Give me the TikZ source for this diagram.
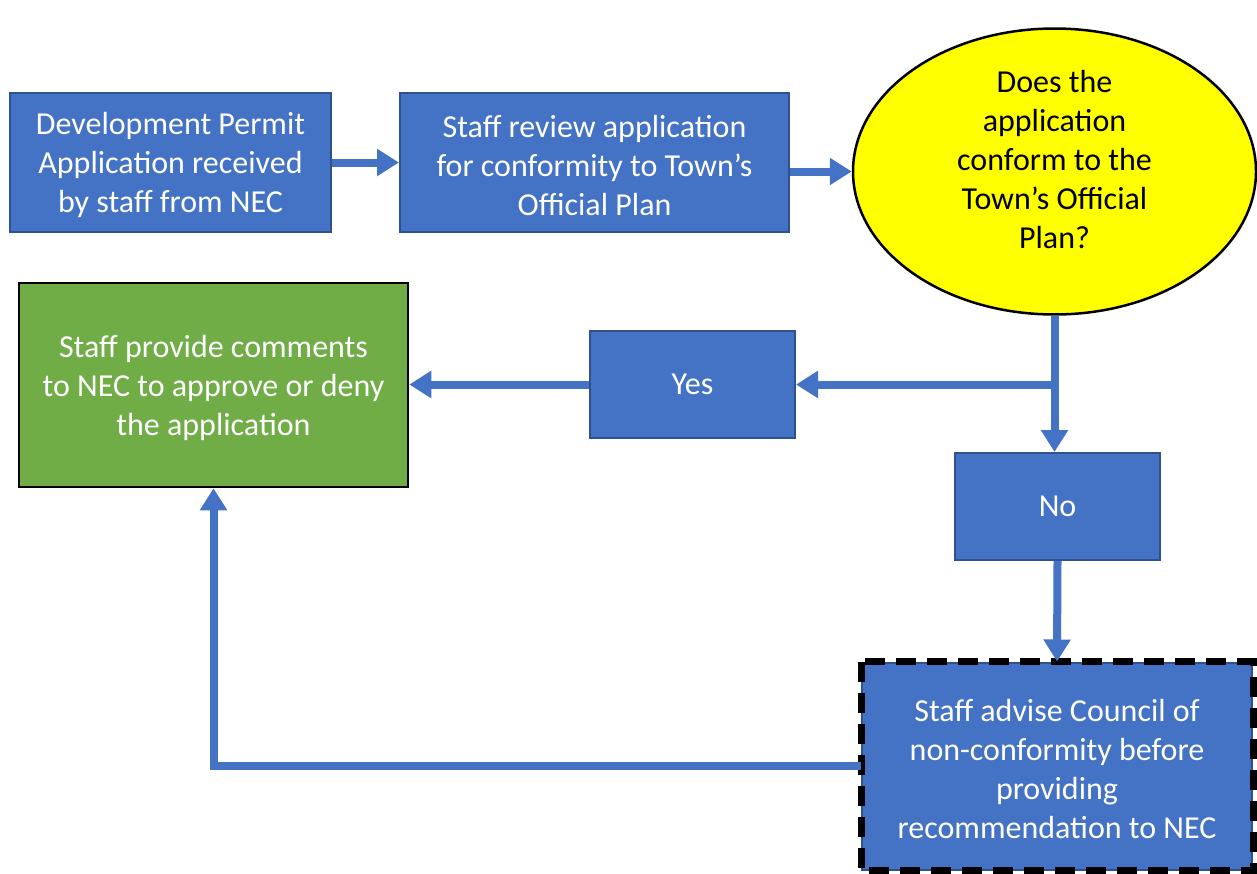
\documentclass[tikz,border=0pt]{standalone}
\usepackage{fontspec}
\setmainfont{Carlito}
\usetikzlibrary{shapes.geometric,arrows.meta}

\definecolor{boxblue}{HTML}{4472C4}
\definecolor{edgeblue}{HTML}{2F528F}
\definecolor{okgreen}{HTML}{70AD47}
\definecolor{askyellow}{HTML}{FFFF00}

\begin{document}
\begin{tikzpicture}[x=1pt, y=-1pt,
                    font=\fontsize{32}{39}\selectfont,
                    step box/.style={rectangle,draw=edgeblue,line width=2pt,fill=boxblue,
                                     text=white,align=center,inner sep=0pt},
                    flow/.style={draw=boxblue,line width=8pt,
                                 -{Triangle[length=22pt,width=26pt]}}]

   \useasboundingbox (0,0) rectangle (1257,873);

   \node[step box,minimum width=321,minimum height=139] (recv) at (170.5,162.5)
        {\strut Development Permit\\Application received\\by staff from NEC};
  \node[step box,minimum width=389,minimum height=139] (review) at (594.5,162.5)
        {\strut Staff review application\\for conformity to Town’s\\Official Plan};
    \node[ellipse,draw=black,line width=2.5pt,fill=askyellow,align=center,text depth=24pt,
          minimum width=403,minimum height=283,inner sep=0pt] (ask) at (1054.5,171.5)
        {Does the\\application\\conform to the\\Town’s Official\\Plan?};
      \node[rectangle,draw=black,line width=2.5pt,fill=okgreen,text=white,align=center,
            minimum width=389,minimum height=204,inner sep=0pt] (comment) at (213.5,385)
        {\strut Staff provide comments\\to NEC to approve or deny\\the application};
        \node[step box,minimum width=205,minimum height=107] (yes) at (692.5,384.5) {Yes};
          \node[step box,minimum width=205,minimum height=107] (no) at (1057.5,506.5) {No};
   \node[step box,minimum width=390,minimum height=207] (advise) at (1057,766)
        {\strut Staff advise Council of\\non-conformity before\\providing\\recommendation to NEC};
   \draw[black,line width=7pt,dash pattern=on 20pt off 11pt]
        (advise.north west) rectangle (advise.south east);

   \coordinate (split) at (ask.south |- yes.east);
   \coordinate (turn) at (comment.south |- advise.west);

   \draw[flow] (recv.east) -- (review.west);
   \draw[flow] (review.east |- ask.west) -- (ask.west);
   \draw[flow] (ask.south) -- (split) -- (yes.east);
   \draw[flow] (split) -- (split |- no.north);
   \draw[flow] (yes.west) -- (comment.east |- yes.west);
   \draw[flow] (no.south) -- (advise.north);
   \draw[flow] (advise.west) -- (turn) -- (comment.south);

\end{tikzpicture}
\end{document}
